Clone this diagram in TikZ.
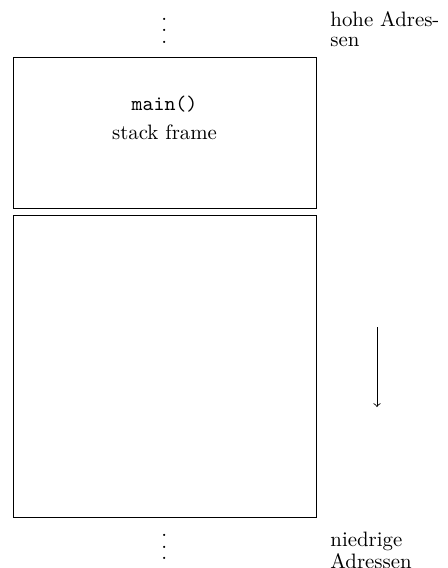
\documentclass[tikz,border=0pt]{standalone}
\newcommand{\myvdots}{\vbox{\baselineskip5.4pt \lineskiplimit0pt \hbox{.}\hbox{.}\hbox{.}}}
\begin{document}
\begin{tikzpicture}[x=0.48pt,y=-0.48pt,
  box/.style={draw, line width=0.4pt, anchor=north west, inner sep=0pt},
  lbl/.style={anchor=north west, align=left, inner sep=0pt, font=\linespread{0.8}\selectfont},
  txt/.style={anchor=base, inner sep=0pt},
  dots/.style={inner sep=0pt}]
\useasboundingbox (0,0) rectangle (447,568);
\node[box, minimum width=303*0.48pt, minimum height=151*0.48pt] (frame) at (13,57) {};
\node[box, minimum width=303*0.48pt, minimum height=302*0.48pt] (free) at (13,215) {};
\node[txt] (fname) at (164.5,110) {\texttt{main()}};
\node[txt] (flabel) at (164.5,139) {stack frame};
\node[dots] (topdots) at (164.3,30.8) {\myvdots};
\node[dots] (botdots) at (164.3,547) {\myvdots};
\node[lbl] (high) at (330,11) {hohe Adres-\\sen};
\node[lbl, font=\linespread{0.76}\selectfont] (low) at (330,532) {niedrige\\Adressen};
\coordinate (astart) at (377,327);
\coordinate (aend) at (377,407);
\draw[->] (astart) -- (aend);
\end{tikzpicture}
\end{document}
